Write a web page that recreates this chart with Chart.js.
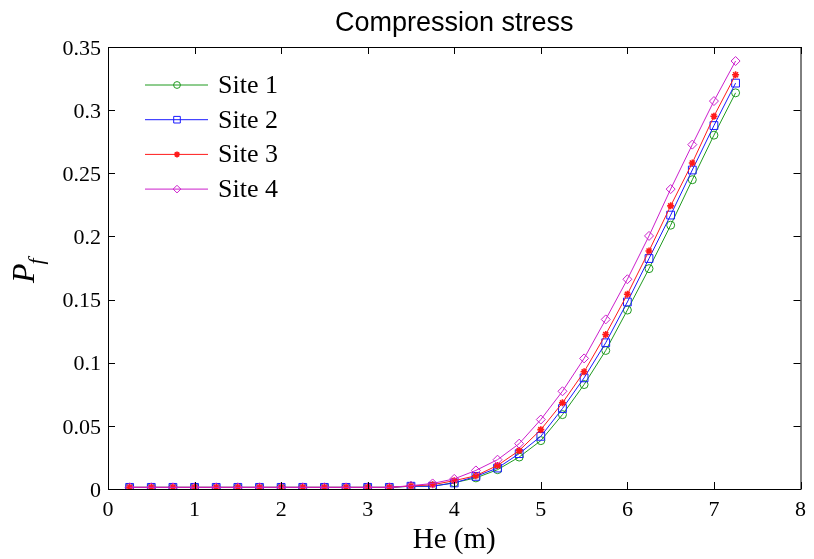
<!DOCTYPE html>
<html>
<head>
<meta charset="utf-8">
<script src="https://cdn.jsdelivr.net/npm/chart.js@4/dist/chart.umd.min.js"></script>
<style>
  html, body { margin: 0; padding: 0; background: #fff; }
  canvas { display: block; }
</style>
</head>
<body>
<canvas id="pfChart" width="814" height="559"></canvas>
<script>
// He (m) sample positions
const heVals = [0.25, 0.5, 0.75, 1, 1.25, 1.5, 1.75, 2, 2.25, 2.5, 2.75, 3, 3.25,
  3.5, 3.75, 4, 4.25, 4.5, 4.75, 5, 5.25, 5.5, 5.75, 6, 6.25, 6.5, 6.75, 7, 7.25];

const flat = [0.0013, 0.0013, 0.0013, 0.0013, 0.0013, 0.0013, 0.0013, 0.0013, 0.0013, 0.0013, 0.0013, 0.0013, 0.0013];
const site1 = flat.concat([0.0022, 0.0022, 0.0050, 0.0088, 0.0153, 0.0253, 0.0383, 0.0589,
  0.0827, 0.1097, 0.1417, 0.1745, 0.2089, 0.2449, 0.2802, 0.3137]);
const site2 = flat.concat([0.0022, 0.0022, 0.0048, 0.0100, 0.0166, 0.0280, 0.0417, 0.0637,
  0.0880, 0.1158, 0.1481, 0.1825, 0.2169, 0.2526, 0.2878, 0.3214]);
const site3 = flat.concat([0.0024, 0.0034, 0.0066, 0.0105, 0.0187, 0.0304, 0.0470, 0.0682,
  0.0928, 0.1224, 0.1542, 0.1885, 0.2242, 0.2582, 0.2952, 0.3280]);
const site4 = flat.concat([0.0026, 0.0044, 0.0080, 0.0147, 0.0232, 0.0359, 0.0550, 0.0774,
  0.1034, 0.1343, 0.1661, 0.2004, 0.2375, 0.2727, 0.3072, 0.3389]);

const siteNames = ['Site 1', 'Site 2', 'Site 3', 'Site 4'];
const xTicks = [0, 1, 2, 3, 4, 5, 6, 7, 8];
const yTicks = [0, 0.05, 0.1, 0.15, 0.2, 0.25, 0.3, 0.35];
const chartTitle = 'Compression stress';

const serif = "'Liberation Serif', 'Times New Roman', serif";
const sans = "'Liberation Sans', Arial, sans-serif";

const styles = [
  { color: '#1f9a1f', point: 'circle', radius: 4 },
  { color: '#1a1aff', point: 'rect', radius: 5.5 },
  { color: '#ff1a1a', point: 'star', radius: 3.5 },
  { color: '#cc1fcc', point: 'rectRot', radius: 4.5 }
];

const toPoints = ys => heVals.map((x, i) => ({ x: x, y: ys[i] }));

const datasets = [site1, site2, site3, site4].map((ys, i) => ({
  label: siteNames[i],
  data: toPoints(ys),
  order: 3 - i, // later sites drawn on top, like the original plot
  borderColor: styles[i].color,
  backgroundColor: 'rgba(0,0,0,0)',
  borderWidth: 1,
  pointStyle: styles[i].point,
  pointRadius: styles[i].radius,
  pointBorderColor: styles[i].color,
  pointBackgroundColor: i === 2 ? styles[i].color : 'rgba(0,0,0,0)',
  pointBorderWidth: i === 2 ? 1.6 : 1,
  tension: 0
}));

// box around the plot with inward ticks on all sides, title over the plot area
const framePlugin = {
  id: 'frame',
  afterDatasetsDraw(chart) {
    const { ctx, chartArea: a, scales } = chart;
    ctx.save();
    ctx.strokeStyle = '#000';
    ctx.lineWidth = 1;
    ctx.strokeRect(a.left + 0.5, a.top + 0.5, a.right - a.left, a.bottom - a.top);
    ctx.beginPath();
    xTicks.forEach(v => {
      const px = Math.round(scales.x.getPixelForValue(v)) + 0.5;
      ctx.moveTo(px, a.bottom); ctx.lineTo(px, a.bottom - 7);
      ctx.moveTo(px, a.top); ctx.lineTo(px, a.top + 7);
    });
    yTicks.forEach(v => {
      const py = Math.round(scales.y.getPixelForValue(v)) + 0.5;
      ctx.moveTo(a.left, py); ctx.lineTo(a.left + 7, py);
      ctx.moveTo(a.right, py); ctx.lineTo(a.right - 7, py);
    });
    ctx.stroke();

    ctx.fillStyle = '#000';
    ctx.font = '27px ' + sans;
    ctx.textAlign = 'center';
    ctx.textBaseline = 'alphabetic';
    ctx.fillText(chartTitle, (a.left + a.right) / 2, 31);
    ctx.restore();
  }
};

// legend: line with a marker in the middle, no box
const legendPlugin = {
  id: 'lineLegend',
  afterDraw(chart) {
    const ctx = chart.ctx;
    ctx.save();
    chart.data.datasets.forEach((ds, i) => {
      const y = 85 + i * 34.7;
      ctx.strokeStyle = ds.borderColor;
      ctx.lineWidth = 1;
      ctx.beginPath();
      ctx.moveTo(145, y); ctx.lineTo(208, y);
      ctx.stroke();
      ctx.fillStyle = ds.pointBackgroundColor;
      ctx.lineWidth = ds.pointBorderWidth;
      Chart.helpers.drawPoint(ctx, {
        pointStyle: ds.pointStyle, radius: ds.pointRadius * 0.85,
        rotation: 0, borderWidth: ds.pointBorderWidth
      }, 177, y);
      ctx.fillStyle = '#000';
      ctx.font = '26px ' + serif;
      ctx.textBaseline = 'middle';
      ctx.textAlign = 'left';
      ctx.fillText(ds.label, 218, y + 1);
    });
    ctx.restore();
  }
};

// y axis label P_f (italic, subscript)
const yLabelPlugin = {
  id: 'yLabel',
  afterDraw(chart) {
    const ctx = chart.ctx;
    ctx.save();
    ctx.translate(34, 283);
    ctx.rotate(-Math.PI / 2);
    ctx.fillStyle = '#000';
    ctx.textBaseline = 'alphabetic';
    ctx.font = 'italic 32px ' + serif;
    ctx.fillText('P', 0, 0);
    const w = ctx.measureText('P').width;
    ctx.font = 'italic 22px ' + serif;
    ctx.fillText('f', w - 1, 9);
    ctx.restore();
  }
};

new Chart(document.getElementById('pfChart').getContext('2d'), {
  type: 'line',
  data: { datasets: datasets },
  options: {
    responsive: false,
    animation: false,
    devicePixelRatio: 1,
    layout: { padding: { left: 0, right: 7, top: 47, bottom: 0 } },
    plugins: {
      legend: { display: false },
      tooltip: { enabled: false },
      title: { display: false }
    },
    scales: {
      x: {
        type: 'linear',
        min: 0,
        max: 8,
        afterFit: s => { s.height = 70; },
        afterBuildTicks: s => { s.ticks = xTicks.map(v => ({ value: v })); },
        grid: { display: false, drawTicks: false },
        border: { display: false },
        ticks: {
          color: '#000',
          padding: 8,
          font: { family: serif, size: 22 },
          callback: v => String(v)
        },
        title: {
          display: true,
          text: 'He (m)',
          color: '#000',
          font: { family: serif, size: 29 },
          padding: { top: 0, bottom: 1 }
        }
      },
      y: {
        min: 0,
        max: 0.35,
        afterFit: s => { s.width = 108; },
        afterBuildTicks: s => { s.ticks = yTicks.map(v => ({ value: v })); },
        grid: { display: false, drawTicks: false },
        border: { display: false },
        ticks: {
          color: '#000',
          padding: 7,
          labelOffset: 2,
          font: { family: serif, size: 22 },
          callback: v => String(Number(v.toFixed(2)))
        }
      }
    }
  },
  plugins: [framePlugin, legendPlugin, yLabelPlugin]
});
</script>
</body>
</html>
